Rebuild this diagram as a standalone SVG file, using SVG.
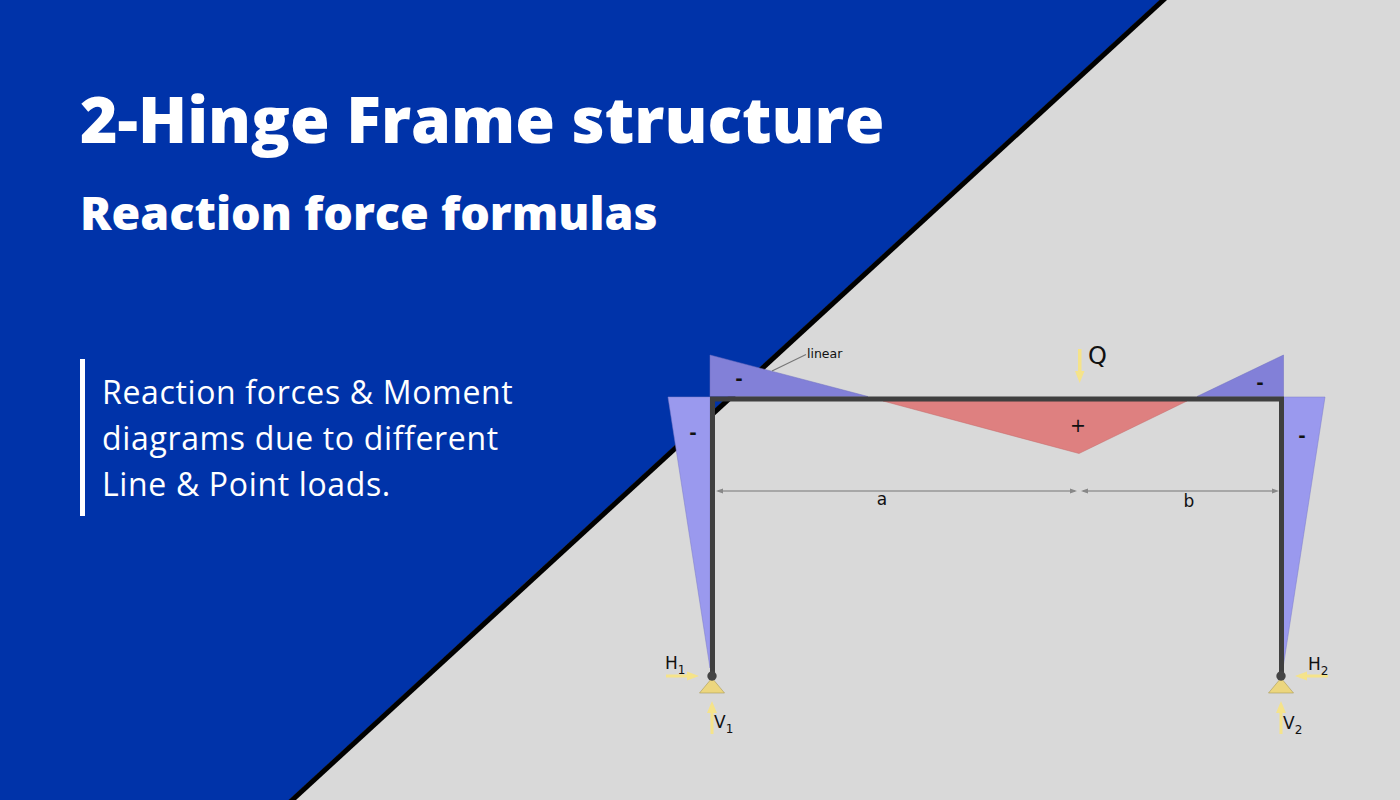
<svg xmlns="http://www.w3.org/2000/svg" width="1400" height="800" viewBox="0 0 1400 800">
<style>
.t{font-family:"Open Sans",sans-serif;fill:#fff}
.d{font-family:"DejaVu Sans",sans-serif;fill:#111}
.arrow{fill:#f5e38a;stroke:none}
.dim{stroke:#777;stroke-width:1.200;fill:none}
.head{fill:#888}
</style>
<defs>
<g id="sup"><polygon points="-12.500,17 0,2 12.500,17" fill="#ecd67e" stroke="#a99a58" stroke-width="0.600"/><circle cx="0" cy="0" r="4.700" fill="#444"/></g>
</defs>
<rect width="1400" height="800" fill="#d9d9d9"/>
<polygon points="0,0 1160,0 289,800 0,800" fill="#0033a9"/>
<polygon points="1159.500,0 1167,0 296,800 288.500,800" fill="#000"/>
<text class="t" x="80" y="143" font-size="64.200" font-weight="800">2-Hinge Frame structure</text>
<text class="t" x="80" y="230" font-size="46.600" font-weight="800">Reaction force formulas</text>
<rect x="80" y="359" width="5" height="157" fill="#fff"/>
<g class="t" font-size="32" letter-spacing="0.650"><text x="102" y="404">Reaction forces &amp; Moment</text><text x="102" y="450">diagrams due to different</text><text x="102" y="496">Line &amp; Point loads.</text></g>
<g id="moments">
<polygon points="710,355 710,396.500 868,396.500" fill="#8280d8" stroke="#6d6cc0" stroke-width="0.500"/>
<polygon points="1283.500,355 1283.500,396.500 1197,396.500" fill="#8280d8" stroke="#6d6cc0" stroke-width="0.500"/>
<polygon points="668,397 710,397 710,668" fill="#9a99ee" stroke="#7c7cc8" stroke-width="0.500"/>
<polygon points="1283,397 1325,397 1283,668" fill="#9a99ee" stroke="#7c7cc8" stroke-width="0.500"/>
<polygon points="883,401 1187,401 1079,453.500" fill="#de8080" stroke="#c56a6a" stroke-width="0.500"/>
</g>
<g id="frame"><path d="M712.500,676V399H1281.500V676" fill="none" stroke="#3f3f3f" stroke-width="5"/></g>
<g id="support-1"><use href="#sup" x="712" y="676"/></g>
<g id="support-2"><use href="#sup" x="1281" y="676"/></g>
<g id="connectors">
<path class="dim" d="M718,491H1075M1083,491H1276"/>
<path class="head" d="M716,491l7,-2.500v5zM1077,491l-7,-2.500v5zM1081,491l7,-2.500v5zM1279,491l-7,-2.500v5z"/>
<path class="dim" d="M772,371L806,354.500" stroke="#888"/>
<polygon class="arrow" points="1078,349 1081.500,349 1081.500,371 1084.500,371 1079.700,383 1075,371 1078,371"/>
<polygon class="arrow" points="666,674.500 687,674.500 687,671.500 699,676 687,680.500 687,677.500 666,677.500"/>
<polygon class="arrow" points="1328,674.500 1307,674.500 1307,671.500 1295,676 1307,680.500 1307,677.500 1328,677.500"/>
<polygon class="arrow" points="710.500,734 713.500,734 713.500,713 717,713 712,701 707,713 710.500,713"/>
<polygon class="arrow" points="1279.500,734 1282.500,734 1282.500,713 1286,713 1281,701 1276,713 1279.500,713"/>
</g>
<g id="labels" class="d">
<text x="807" y="358" font-size="12.500">linear</text>
<text x="1088" y="364" font-size="24">Q</text>
<text x="739" y="385" font-size="18" font-weight="700" text-anchor="middle">-</text>
<text x="1260" y="389" font-size="18" font-weight="700" text-anchor="middle">-</text>
<text x="693" y="438.500" font-size="18" font-weight="700" text-anchor="middle">-</text>
<text x="1302" y="441.500" font-size="18" font-weight="700" text-anchor="middle">-</text>
<text x="1078" y="432" font-size="19" text-anchor="middle">+</text>
<text x="882" y="505" font-size="17" text-anchor="middle">a</text>
<text x="1189" y="507" font-size="17" text-anchor="middle">b</text>
<text x="665" y="669" font-size="17">H<tspan font-size="12" dy="4.500">1</tspan></text>
<text x="1308" y="670" font-size="17">H<tspan font-size="12" dy="4.500">2</tspan></text>
<text x="714" y="728" font-size="17">V<tspan font-size="12" dy="4.500">1</tspan></text>
<text x="1283" y="729" font-size="17">V<tspan font-size="12" dy="4.500">2</tspan></text>
</g>
</svg>
